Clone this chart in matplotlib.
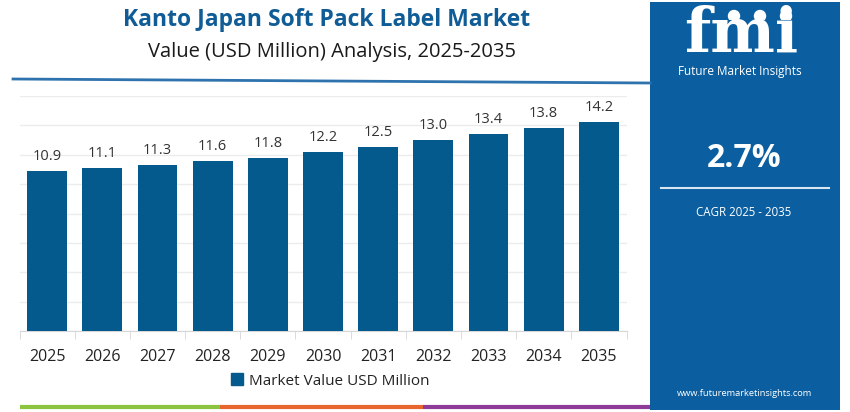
import matplotlib
matplotlib.use('Agg')
import matplotlib.pyplot as plt
from matplotlib.patches import Rectangle, Ellipse
from matplotlib.lines import Line2D
import numpy as np

years = ['2025', '2026', '2027', '2028', '2029', '2030', '2031', '2032', '2033', '2034', '2035']
values = [10.9, 11.1, 11.3, 11.6, 11.8, 12.2, 12.5, 13.0, 13.4, 13.8, 14.2]
series_name = 'Market Value USD Million'
title = 'Kanto Japan Soft Pack Label Market'
subtitle = 'Value (USD Million) Analysis, 2025-2035'
cagr = '2.7%'
cagr_label = 'CAGR 2025 - 2035'
website = 'www.futuremarketinsights.com'

W, H = 850, 412
bar_color = '#045a8d'
panel_color = '#0b5fa0'
plt.rcParams['font.family'] = ['Open Sans', 'DejaVu Sans']

fig = plt.figure(figsize=(W / 100, H / 100), dpi=100)
fig.patch.set_facecolor('white')


def fx(px):
    return px / W


def fy(py):
    # py measured from top
    return 1 - py / H


# main axes, placed in pixel terms
ax = fig.add_axes([fx(19.5), fy(331), fx(626.5 - 19.5), (331 - 96) / H])
x = np.arange(len(years))
ax.bar(x, values, width=0.72, color=bar_color, zorder=3)
ax.set_xlim(-0.5, len(years) - 0.5)
ax.set_ylim(0, 16)
ax.set_yticks(np.arange(0, 17, 2))
ax.yaxis.grid(True, color='#ececec', linewidth=1, zorder=0)
ax.tick_params(axis='y', left=False, labelleft=False)
for s in ['top', 'right', 'left']:
    ax.spines[s].set_visible(False)
ax.spines['bottom'].set_color('#d6d6d6')
ax.set_xticks(x)
ax.set_xticklabels(years, fontsize=11.5, color='#222222')
ax.tick_params(axis='x', length=0, pad=13)
# separator ticks between categories
ax.set_xticks(np.arange(-0.5, len(years), 1), minor=True)
ax.tick_params(axis='x', which='minor', length=6, color='#d6d6d6')

for xi, v in zip(x, values):
    ax.annotate(f'{v:.1f}', (xi, v), xytext=(0, 5), textcoords='offset points',
                ha='center', va='bottom', fontsize=10.5, color='#333333')

# legend
ax.legend([Rectangle((0, 0), 1, 1, color=bar_color)], [series_name],
          loc='center', bbox_to_anchor=(fx(330), fy(381)), bbox_transform=fig.transFigure,
          frameon=False, fontsize=11, handlelength=0.8, handleheight=0.8,
          handletextpad=0.4, labelcolor='#222222')

# titles
fig.text(fx(327), fy(20), title, ha='center', va='center', fontsize=16.5,
         fontweight='bold', color='#0f5c96')
fig.text(fx(332), fy(52), subtitle, ha='center', va='center', fontsize=14.5, color='#1a1a1a')

# blue rule under titles
fig.add_artist(Line2D([fx(13), fx(650)], [fy(79), fy(83)], color='#2e73ad', linewidth=2,
                      transform=fig.transFigure))

# bottom colour strip
for x0, x1, c in [(20, 220, '#8cc43f'), (220, 423, '#e8662e'), (423, 650, '#8e3a98')]:
    fig.add_artist(Line2D([fx(x0), fx(x1)], [fy(407), fy(407)], color=c, linewidth=3,
                          solid_capstyle='butt', transform=fig.transFigure))

# right panel
fig.add_artist(Rectangle((fx(650), fy(410)), fx(190), 408 / H, facecolor=panel_color,
                         edgecolor='none', transform=fig.transFigure))
fig.text(fx(741), fy(35), 'fmi', ha='center', va='center', fontsize=44, fontweight='bold',
         family='DejaVu Serif', color='white')
# stripes over logo letters
for yy in np.arange(20, 54, 3.2):
    fig.add_artist(Line2D([fx(670), fx(815)], [fy(yy), fy(yy)], color=panel_color,
                          linewidth=0.7, transform=fig.transFigure))
for cx in [734, 760, 786]:
    fig.add_artist(Ellipse((fx(cx), fy(16)), fx(11), 11 / H, color='white',
                           transform=fig.transFigure))
fig.text(fx(740), fy(71), 'Future Market Insights', ha='center', va='center', fontsize=8.5,
         color='white')
fig.text(fx(744), fy(159), cagr, ha='center', va='center', fontsize=23, fontweight='bold',
         color='white')
fig.add_artist(Line2D([fx(661), fx(829)], [fy(188), fy(188)], color='#d8e6f2', linewidth=1.5,
                      transform=fig.transFigure))
fig.text(fx(744), fy(213), cagr_label, ha='center', va='center', fontsize=8.3, color='white')
fig.text(fx(745), fy(394), website, ha='center', va='center', fontsize=6.7, color='white')

fig.savefig('out.png', dpi=100)
